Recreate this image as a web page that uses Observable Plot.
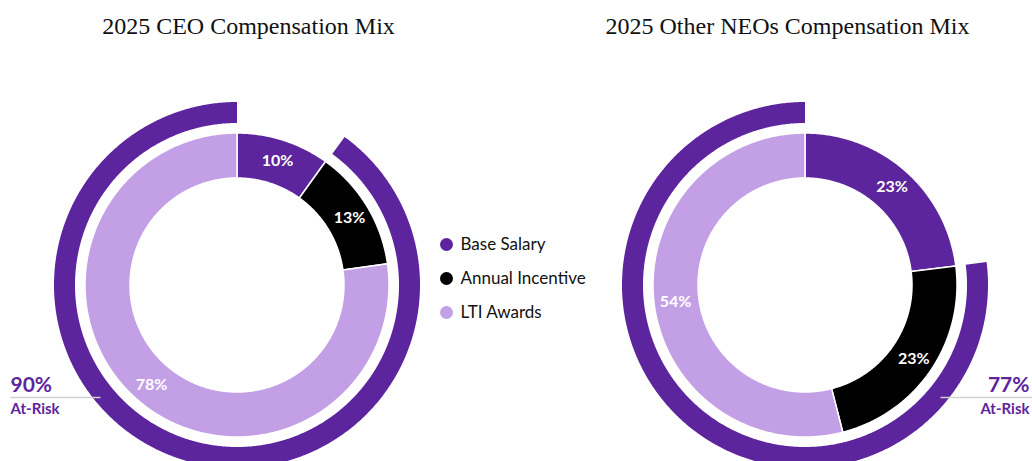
<!DOCTYPE html>
<html>
<head>
<meta charset="utf-8">
<script src="https://cdn.jsdelivr.net/npm/d3@7"></script>
<script src="https://cdn.jsdelivr.net/npm/@observablehq/plot@0.6"></script>
<style>
  html, body { margin: 0; padding: 0; background: #fff; }
  #chart svg { display: block; }
</style>
</head>
<body>
<div id="chart"></div>
<script>
// ---- data ----
const categories = ["Base Salary", "Annual Incentive", "LTI Awards"];
const ceoValues = [10, 13, 78];
const neoValues = [23, 23, 54];
const atRiskValues = [90, 77];
const chartTitles = ["2025 CEO Compensation Mix", "2025 Other NEOs Compensation Mix"];
const atRiskLabel = "At-Risk";

// ---- styling / layout ----
const colors = ["#5c259d", "#000000", "#c3a0e6"];
const W = 1032, H = 461;
const centers = [[237, 285], [805, 285]];
const rIn = 107, rOut = 152, arcIn = 162, arcOut = 183, rLabel = 131;
const rad = d => d * Math.PI / 180;

const charts = [ceoValues, neoValues];
const segRows = [], labelRows = [], arcRows = [];
charts.forEach((vals, ci) => {
  const [cx, cy] = centers[ci];
  const total = d3.sum(vals);
  let acc = 0;
  vals.forEach((v, k) => {
    const a0 = acc / total * 360, a1 = (acc + v) / total * 360;
    acc += v;
    const n = Math.max(2, Math.ceil((a1 - a0) / 0.5));
    for (let i = 0; i <= n; i++) {
      const a = rad(a0 + (a1 - a0) * i / n);
      segRows.push({key: ci + "-" + k, cat: categories[k],
        x1: cx + rIn * Math.sin(a), y1: cy - rIn * Math.cos(a),
        x2: cx + rOut * Math.sin(a), y2: cy - rOut * Math.cos(a)});
    }
    const am = rad((a0 + a1) / 2);
    labelRows.push({x: cx + rLabel * Math.sin(am), y: cy - rLabel * Math.cos(am), text: v + "%"});
  });
  // at-risk outer arc: ends at 12 o'clock, spans the at-risk share
  const s0 = (1 - atRiskValues[ci] / 100) * 360, s1 = 360;
  const n = Math.ceil((s1 - s0) / 0.5);
  for (let i = 0; i <= n; i++) {
    const a = rad(s0 + (s1 - s0) * i / n);
    arcRows.push({key: "arc" + ci,
      x1: cx + arcIn * Math.sin(a), y1: cy - arcIn * Math.cos(a),
      x2: cx + arcOut * Math.sin(a), y2: cy - arcOut * Math.cos(a)});
  }
});

const titleRows = chartTitles.map((t, i) => ({x: i === 0 ? 248 : 787, y: 26, text: t}));
const legendRows = categories.map((c, i) => ({cat: c, y: 244 + i * 34}));
const sans = "Lato, 'Open Sans', sans-serif";
const riskStyle = {fill: colors[0], fontWeight: 700, fontFamily: sans};

const plot = Plot.plot({
  width: W, height: H,
  marginTop: 0, marginRight: 0, marginBottom: 0, marginLeft: 0,
  x: {domain: [0, W], range: [0, W], axis: null},
  y: {domain: [0, H], range: [0, H], axis: null},
  color: {domain: categories, range: colors},
  style: {background: "#fff", overflow: "hidden"},
  marks: [
    Plot.area(arcRows, {x1: "x1", y1: "y1", x2: "x2", y2: "y2", z: "key", fill: colors[0]}),
    Plot.area(segRows, {x1: "x1", y1: "y1", x2: "x2", y2: "y2", z: "key", fill: "cat",
      stroke: "#fff", strokeWidth: 1.5}),
    Plot.text(labelRows, {x: "x", y: "y", text: "text", fill: "#fff",
      fontSize: 16, fontWeight: 700, fontFamily: sans}),
    Plot.text(titleRows, {x: "x", y: "y", text: "text", fill: "#111",
      fontSize: 24, fontFamily: "'Liberation Serif', 'Times New Roman', serif"}),
    Plot.dot(legendRows, {x: 446, y: "y", r: 6.5, fill: "cat"}),
    Plot.text(legendRows, {x: 460, y: "y", text: "cat", textAnchor: "start",
      fill: "#111", fontSize: 17, fontFamily: sans}),
    Plot.link([{x1: 10, x2: 100, y: 397}, {x1: 940, x2: 1032, y: 397}],
      {x1: "x1", x2: "x2", y1: "y", y2: "y", stroke: "#d0d0d0", strokeWidth: 1.5}),
    Plot.text([atRiskValues[0] + "%"], {x: 10, y: 385, text: d => d, textAnchor: "start", fontSize: 21, ...riskStyle}),
    Plot.text([atRiskValues[1] + "%"], {x: 1029, y: 385, text: d => d, textAnchor: "end", fontSize: 21, ...riskStyle}),
    Plot.text([atRiskLabel], {x: 10, y: 409, text: d => d, textAnchor: "start", fontSize: 15, ...riskStyle}),
    Plot.text([atRiskLabel], {x: 1029, y: 409, text: d => d, textAnchor: "end", fontSize: 15, ...riskStyle})
  ]
});
document.getElementById("chart").appendChild(plot);
</script>
</body>
</html>
